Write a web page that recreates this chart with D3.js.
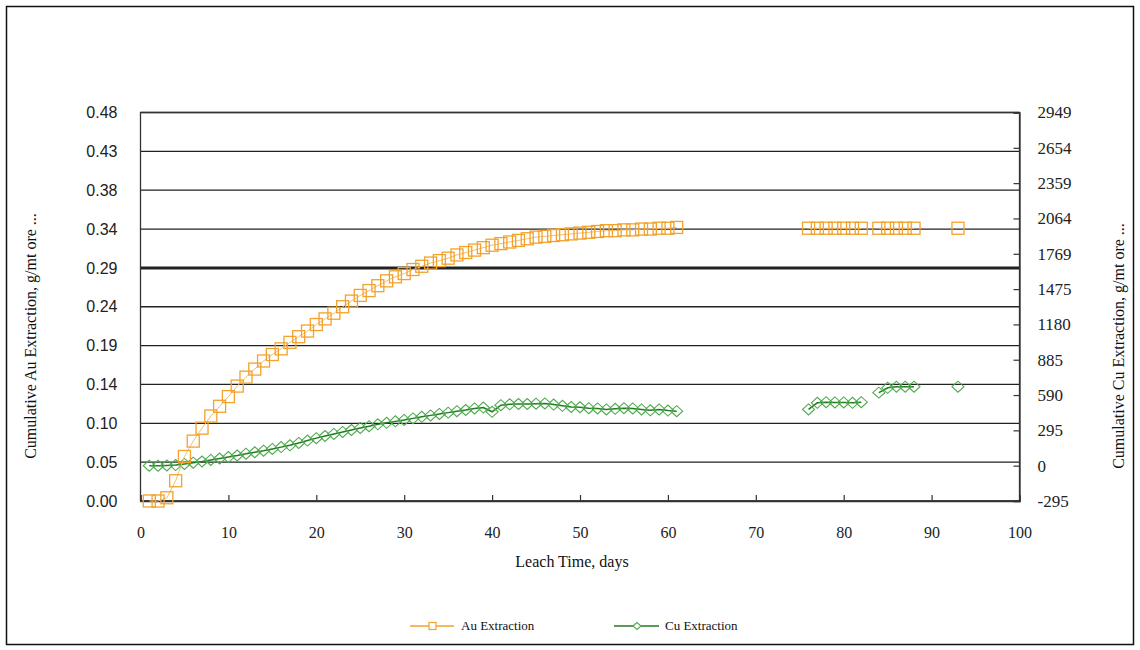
<!DOCTYPE html>
<html>
<head>
<meta charset="utf-8">
<script src="https://cdn.jsdelivr.net/npm/d3@7"></script>
<style>
  html, body { margin: 0; padding: 0; background: #fff; }
  svg { display: block; }
</style>
</head>
<body>
<svg id="chart" width="1140" height="650"></svg>
<script>
// ---- Data ----
const days = [
  1,2,3,4,5,6,7,8,9,10,11,12,13,14,15,16,17,18,19,20,
  21,22,23,24,25,26,27,28,29,30,31,32,33,34,35,36,37,38,39,40,
  41,42,43,44,45,46,47,48,49,50,51,52,53,54,55,56,57,58,59,60,61,
  76,77,78,79,80,81,82,
  84,85,86,87,88,
  93
];
// Cumulative Au extraction, g/mt ore (left axis)
const auValues = [
  0.000,0.000,0.004,0.025,0.055,0.074,0.090,0.105,0.117,0.129,
  0.142,0.153,0.163,0.173,0.181,0.188,0.196,0.203,0.210,0.218,
  0.225,0.232,0.240,0.247,0.254,0.260,0.266,0.272,0.277,0.281,
  0.286,0.290,0.294,0.297,0.300,0.304,0.307,0.310,0.313,0.316,
  0.318,0.320,0.322,0.324,0.326,0.327,0.328,0.329,0.330,0.331,
  0.332,0.333,0.334,0.334,0.335,0.335,0.336,0.336,0.337,0.337,0.338,
  0.337,0.337,0.337,0.337,0.337,0.337,0.337,
  0.337,0.337,0.337,0.337,0.337,
  0.337
];
// Cumulative Cu extraction, g/mt ore (right axis)
const cuValues = [
  0,0,2,5,15,25,35,48,60,72,
  85,100,112,125,140,155,170,190,210,230,
  248,265,282,298,315,330,345,358,370,382,
  395,408,420,432,443,455,465,478,485,450,
  505,512,515,515,518,520,510,500,490,488,
  480,478,470,475,480,478,470,462,470,460,455,
  470,525,530,528,528,525,530,
  610,650,660,660,660,
  660
];
const xTicks = [0,10,20,30,40,50,60,70,80,90,100];
const leftTicks = [0,0.048,0.096,0.144,0.192,0.24,0.288,0.336,0.384,0.432,0.48];
const leftTickLabels = ["0.00","0.05","0.10","0.14","0.19","0.24","0.29","0.34","0.38","0.43","0.48"];
const rightTicks = [-294.9,0,294.9,589.8,884.7,1179.6,1474.5,1769.4,2064.3,2359.2,2654.1,2949];
const rightTickLabels = ["-295","0","295","590","885","1180","1475","1769","2064","2359","2654","2949"];
const seriesNames = ["Au Extraction","Cu Extraction"];
const xTitle = "Leach Time, days";
const leftTitle = "Cumulative Au Extraction, g/mt ore  ...";
const rightTitle = "Cumulative Cu Extraction, g/mt ore  ...";

// ---- Layout ----
const W = 1140, H = 650;
const plot = { left: 140.5, right: 1019.5, top: 112.5, bottom: 501 };
const svg = d3.select("#chart");
const serif = "'Liberation Serif', 'Times New Roman', serif";
const sans = "'Liberation Sans', Arial, sans-serif";

const AU = "#F2A22C", AU_LINE = "#F5BE6A";
const CU = "#4FAA4F", CU_LINE = "#237A23";

svg.append("rect").attr("x", 0).attr("y", 0).attr("width", W).attr("height", H).attr("fill", "#fff");
svg.append("rect").attr("x", 6.5).attr("y", 6.5).attr("width", 1127).attr("height", 638)
  .attr("fill", "none").attr("stroke", "#111").attr("stroke-width", 1.5);

const x = d3.scaleLinear().domain([0, 100]).range([plot.left, plot.right]);
const yL = d3.scaleLinear().domain([0, 0.48]).range([plot.bottom, plot.top]);
const yR = d3.scaleLinear().domain([-294.9, 2949]).range([plot.bottom, plot.top]);

// Gridlines
svg.append("g").selectAll("line").data(leftTicks).join("line")
  .attr("x1", plot.left).attr("x2", plot.right)
  .attr("y1", d => yL(d)).attr("y2", d => yL(d))
  .attr("stroke", "#222")
  .attr("stroke-width", (d, i) => i === 6 ? 3 : 1.3);

// Plot frame
svg.append("rect").attr("x", plot.left).attr("y", plot.top)
  .attr("width", plot.right - plot.left).attr("height", plot.bottom - plot.top)
  .attr("fill", "none").attr("stroke", "#333").attr("stroke-width", 1.3);

// X axis (ticks inside)
const xAxis = d3.axisBottom(x).tickValues(xTicks).tickSize(-6).tickPadding(26).tickFormat(d3.format("d"));
const gx = svg.append("g").attr("transform", `translate(0,${plot.bottom})`).call(xAxis);
gx.select(".domain").attr("stroke", "#333").attr("stroke-width", 1.3);
gx.selectAll(".tick line").attr("stroke", "#333").attr("stroke-width", 1.2);
gx.selectAll("text").attr("font-family", serif).attr("font-size", 16).attr("fill", "#222");

// Left axis
const yAxisL = d3.axisLeft(yL).tickValues(leftTicks).tickSize(0).tickPadding(23)
  .tickFormat((d, i) => leftTickLabels[i]);
const gl = svg.append("g").attr("transform", `translate(${plot.left},0)`).call(yAxisL);
gl.select(".domain").remove();
gl.selectAll("text").attr("font-family", sans).attr("font-size", 16).attr("fill", "#222");

// Right axis (ticks inward)
const yAxisR = d3.axisRight(yR).tickValues(rightTicks).tickSize(-6).tickPadding(18)
  .tickFormat((d, i) => rightTickLabels[i]);
const gr = svg.append("g").attr("transform", `translate(${plot.right},0)`).call(yAxisR);
gr.select(".domain").attr("stroke", "#333").attr("stroke-width", 1.3);
gr.selectAll(".tick line").attr("stroke", "#333").attr("stroke-width", 1.2);
gr.selectAll("text").attr("font-family", serif).attr("font-size", 17).attr("fill", "#222");

// Titles
svg.append("text").attr("x", 572).attr("y", 567).attr("text-anchor", "middle")
  .attr("font-family", serif).attr("font-size", 16).attr("fill", "#111").text(xTitle);
svg.append("text").attr("transform", `translate(36,336) rotate(-90)`).attr("text-anchor", "middle")
  .attr("font-family", serif).attr("font-size", 16).attr("fill", "#111").text(leftTitle);
svg.append("text").attr("transform", `translate(1124,346) rotate(-90)`).attr("text-anchor", "middle")
  .attr("font-family", serif).attr("font-size", 16).attr("fill", "#111").text(rightTitle);

// Build segments of consecutive days
function segments(vals) {
  const segs = [];
  let cur = [];
  days.forEach((d, i) => {
    if (i > 0 && d - days[i - 1] > 1) { segs.push(cur); cur = []; }
    cur.push([d, vals[i]]);
  });
  segs.push(cur);
  return segs;
}

// Cu series
const lineCu = d3.line().x(d => x(d[0])).y(d => yR(d[1]));
svg.append("g").selectAll("path").data(segments(cuValues)).join("path")
  .attr("d", lineCu).attr("fill", "none").attr("stroke", CU_LINE).attr("stroke-width", 1.5);
const diamond = (cx, cy) => `M${cx - 6},${cy} L${cx},${cy - 5.5} L${cx + 6},${cy} L${cx},${cy + 5.5} Z`;
svg.append("g").selectAll("path").data(days.map((d, i) => [d, cuValues[i]])).join("path")
  .attr("d", d => diamond(x(d[0]), yR(d[1])))
  .attr("fill", "none").attr("stroke", CU).attr("stroke-width", 1.1);

// Au series
const lineAu = d3.line().x(d => x(d[0])).y(d => yL(d[1]));
svg.append("g").selectAll("path").data(segments(auValues)).join("path")
  .attr("d", lineAu).attr("fill", "none").attr("stroke", AU_LINE).attr("stroke-width", 1);
svg.append("g").selectAll("rect").data(days.map((d, i) => [d, auValues[i]])).join("rect")
  .attr("x", d => x(d[0]) - 6).attr("y", d => yL(d[1]) - 6)
  .attr("width", 12).attr("height", 12)
  .attr("fill", "none").attr("stroke", AU).attr("stroke-width", 1.3);

// Legend
const legend = svg.append("g").attr("font-family", serif).attr("font-size", 13).attr("fill", "#111");
const ly = 626;
legend.append("line").attr("x1", 410).attr("x2", 454).attr("y1", ly).attr("y2", ly).attr("stroke", AU).attr("stroke-width", 1.5);
legend.append("rect").attr("x", 429).attr("y", ly - 3.5).attr("width", 7).attr("height", 7).attr("fill", "#fff").attr("stroke", AU).attr("stroke-width", 1.2);
legend.append("text").attr("x", 461).attr("y", ly + 4).text(seriesNames[0]);
legend.append("line").attr("x1", 614).attr("x2", 659).attr("y1", ly).attr("y2", ly).attr("stroke", CU_LINE).attr("stroke-width", 1.5);
legend.append("path").attr("d", `M${633},${ly} L${637},${ly - 3.5} L${641},${ly} L${637},${ly + 3.5} Z`).attr("fill", "#fff").attr("stroke", CU).attr("stroke-width", 1.1);
legend.append("text").attr("x", 665).attr("y", ly + 4).text(seriesNames[1]);
</script>
</body>
</html>
